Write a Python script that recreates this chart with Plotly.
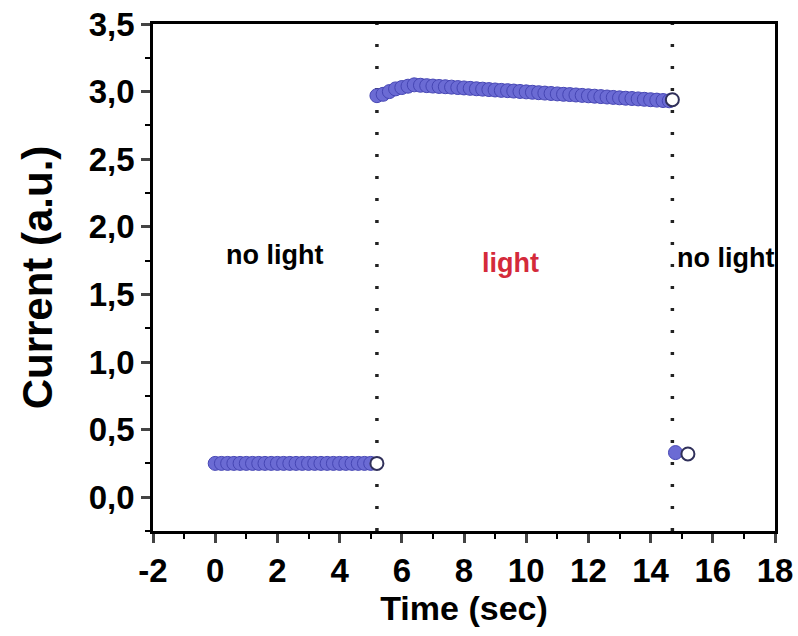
import plotly.graph_objects as go

# ---- data ----
time_dark1 = [0.0, 0.2, 0.4, 0.6, 0.8, 1.0, 1.2, 1.4, 1.6, 1.8, 2.0, 2.2, 2.4, 2.6, 2.8,
              3.0, 3.2, 3.4, 3.6, 3.8, 4.0, 4.2, 4.4, 4.6, 4.8, 5.0]
current_dark1 = [0.25, 0.25, 0.25, 0.25, 0.25, 0.25, 0.25, 0.25, 0.25, 0.25, 0.25, 0.25, 0.25,
                 0.25, 0.25, 0.25, 0.25, 0.25, 0.25, 0.25, 0.25, 0.25, 0.25, 0.25, 0.25, 0.25]

time_light = [5.2, 5.4, 5.6, 5.8, 6.0, 6.2, 6.4, 6.6, 6.8, 7.0, 7.2, 7.4, 7.6, 7.8, 8.0,
              8.2, 8.4, 8.6, 8.8, 9.0, 9.2, 9.4, 9.6, 9.8, 10.0, 10.2, 10.4, 10.6, 10.8,
              11.0, 11.2, 11.4, 11.6, 11.8, 12.0, 12.2, 12.4, 12.6, 12.8, 13.0, 13.2,
              13.4, 13.6, 13.8, 14.0, 14.2, 14.4, 14.6]
current_light = [2.97, 2.98, 3.00, 3.02, 3.03, 3.04, 3.05, 3.047, 3.044, 3.041, 3.038, 3.036,
                 3.033, 3.030, 3.027, 3.024, 3.021, 3.018, 3.015, 3.012, 3.009, 3.007, 3.004,
                 3.001, 2.998, 2.995, 2.992, 2.989, 2.986, 2.983, 2.980, 2.978, 2.975, 2.972,
                 2.969, 2.966, 2.963, 2.960, 2.957, 2.954, 2.951, 2.949, 2.946, 2.943, 2.940,
                 2.937, 2.934, 2.932]

time_dark2 = [14.8]
current_dark2 = [0.33]

# switch-over points drawn as white open markers
time_switch = [5.2, 14.7, 15.2]
current_switch = [0.25, 2.94, 0.32]

switch_times = [5.2, 14.7]

y_ticks = [0.0, 0.5, 1.0, 1.5, 2.0, 2.5, 3.0, 3.5]
y_labels = ["0,0", "0,5", "1,0", "1,5", "2,0", "2,5", "3,0", "3,5"]
x_ticks = [-2, 0, 2, 4, 6, 8, 10, 12, 14, 16, 18]
x_labels = ["-2", "0", "2", "4", "6", "8", "10", "12", "14", "16", "18"]

regions = ["no light", "light", "no light"]
region_x = [1.9, 9.5, 16.4]
region_y = [1.79, 1.73, 1.77]
region_colors = ["black", "#d42a3a", "black"]

FONT = "Liberation Sans, Arial, sans-serif"
blue_fill = "#6b6bd4"
blue_line = "#4646b4"

fig = go.Figure()

for xs, ys in [(time_dark1, current_dark1), (time_light, current_light), (time_dark2, current_dark2)]:
    fig.add_trace(go.Scatter(
        x=xs, y=ys, mode="markers",
        marker=dict(symbol="circle", size=14, color=blue_fill,
                    line=dict(color=blue_line, width=1)),
        showlegend=False))

fig.add_trace(go.Scatter(
    x=time_switch, y=current_switch, mode="markers",
    marker=dict(symbol="circle", size=13, color="white",
                line=dict(color="#30305a", width=2)),
    showlegend=False))

for t in switch_times:
    fig.add_shape(type="line", x0=t, x1=t, y0=0, y1=1, xref="x", yref="paper",
                  line=dict(color="#222", width=3.5, dash="3px,19px"), layer="below")

for txt, xx, yy, cc in zip(regions, region_x, region_y, region_colors):
    fig.add_annotation(x=xx, y=yy, text=txt, showarrow=False,
                       font=dict(family=FONT, size=27, color=cc, weight="bold"))

fig.update_layout(
    width=798, height=636,
    margin=dict(l=153, r=23, t=24, b=105),
    paper_bgcolor="white", plot_bgcolor="white",
    font=dict(family=FONT, color="black"),
    xaxis=dict(range=[-2, 18], tickvals=x_ticks, ticktext=x_labels, ticks="outside",
               ticklen=9, tickwidth=2.5, automargin=False,
               showline=True, linecolor="black", linewidth=2.5, mirror=True,
               showgrid=False, zeroline=False,
               tickfont=dict(size=33, family=FONT, weight="bold"),
               minor=dict(dtick=1, ticks="outside", ticklen=5, tickwidth=2, tickcolor="black"),
               title=dict(text="Time (sec)", font=dict(size=34, family=FONT, weight="bold"),
                          standoff=8)),
    yaxis=dict(range=[-0.25, 3.5], tickvals=y_ticks, ticktext=y_labels, ticks="outside",
               ticklen=9, tickwidth=2.5, automargin=False,
               showline=True, linecolor="black", linewidth=2.5, mirror=True,
               showgrid=False, zeroline=False,
               tickfont=dict(size=33, family=FONT, weight="bold"),
               minor=dict(dtick=0.25, tick0=0, ticks="outside", ticklen=5, tickwidth=2,
                          tickcolor="black"),
               title=dict(text="Current (a.u.)", font=dict(size=42, family=FONT, weight="bold"),
                          standoff=24)),
)

fig.write_html("out.html")
